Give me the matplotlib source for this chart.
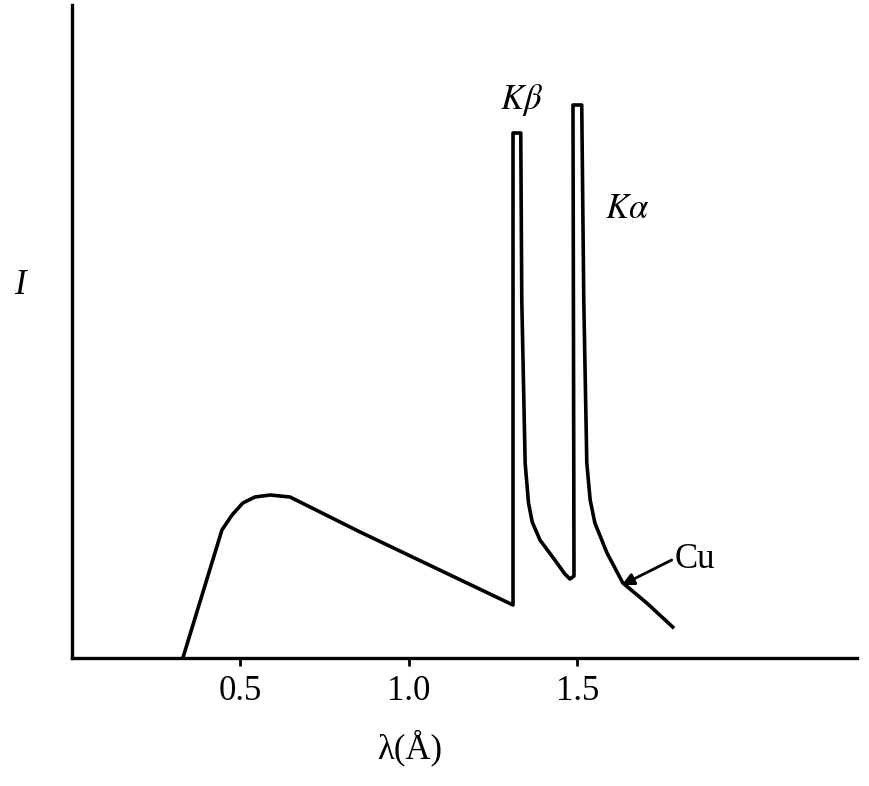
import matplotlib
matplotlib.use("Agg")
import matplotlib.pyplot as plt

# Cu X-ray emission spectrum
wavelength = [0.329, 0.445, 0.475, 0.507, 0.543, 0.588, 0.647, 0.855, 1.309,
              1.309, 1.332, 1.335, 1.345, 1.355, 1.366, 1.389, 1.433, 1.463, 1.478, 1.490,
              1.487, 1.513, 1.519, 1.528, 1.538, 1.552, 1.588, 1.635, 1.706, 1.783]
intensity = [0.0, 1.28, 1.43, 1.55, 1.61, 1.63, 1.61, 1.26, 0.53,
             5.25, 5.25, 3.58, 1.95, 1.55, 1.36, 1.18, 0.98, 0.84, 0.79, 0.82,
             5.53, 5.53, 3.58, 1.95, 1.58, 1.35, 1.05, 0.75, 0.55, 0.31]
tick_values = [0.5, 1.0, 1.5]
tick_labels = ["0.5", "1.0", "1.5"]

serif = ["Liberation Serif", "DejaVu Serif"]

fig = plt.figure(figsize=(8.7, 7.86), dpi=100)
ax = fig.add_axes([72 / 870, 128 / 786, 785 / 870, 653 / 786])
ax.plot(wavelength, intensity, color="black", lw=2.6, solid_joinstyle="round")

ax.set_xlim(0, 2.33)
ax.set_ylim(0, 6.53)
for s in ("top", "right"):
    ax.spines[s].set_visible(False)
for s in ("left", "bottom"):
    ax.spines[s].set_linewidth(2.4)
ax.set_yticks([])
ax.set_xticks(tick_values)
ax.set_xticklabels(tick_labels, family=serif, fontsize=25)
ax.tick_params(axis="x", direction="out", length=6, width=2, pad=6)

ax.set_xlabel("λ(Å)", family=serif, fontsize=25, va="center")
ax.xaxis.set_label_coords((410 - 72) / 785, (658 - 748) / 653)
fig.text(20 / 870, 1 - 285 / 786, "I", family=serif, style="italic",
         fontsize=25, ha="center", va="center")

ax.text(1.335, 5.58, r"$K\beta$", fontsize=25, ha="center", va="center",
        math_fontfamily="stix")
ax.text(1.647, 4.50, r"$K\alpha$", fontsize=25, ha="center", va="center",
        math_fontfamily="stix")

ax.annotate("", xy=(1.632, 0.73), xytext=(1.78, 0.98),
            arrowprops=dict(arrowstyle="-|>", color="black", lw=2,
                            mutation_scale=18, shrinkA=0, shrinkB=0))
ax.text(1.79, 0.98, "Cu", family=serif, fontsize=25, ha="left", va="center")

fig.savefig("out.png", dpi=100, facecolor="white")
